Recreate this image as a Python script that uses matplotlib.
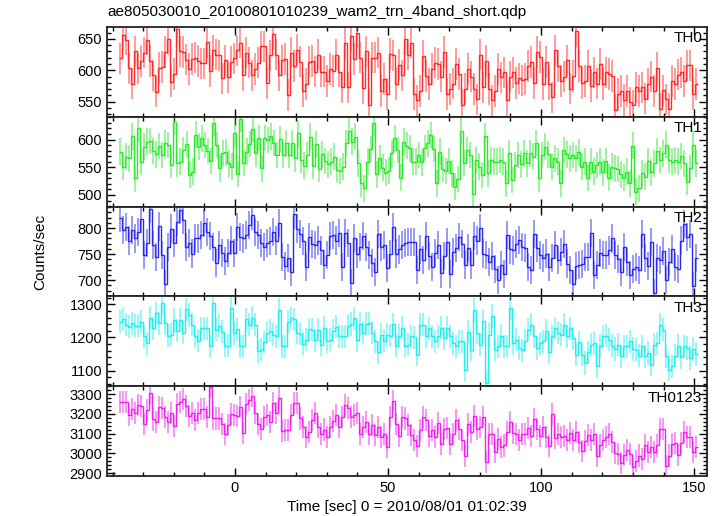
import numpy as np
import matplotlib
matplotlib.use("Agg")
import matplotlib.pyplot as plt
from matplotlib.ticker import MultipleLocator

plt.rcParams['font.family'] = ['Liberation Sans', 'DejaVu Sans']

# ---- data (counts/sec, 1 s bins) ----
th0_a = [619, 656, 649, 603, 579, 630, 603, 615, 628, 649, 615, 592, 566, 604, 605, 629, 650, 582, 594, 666,
         630, 629, 617, 602, 618, 620, 615, 611, 611, 645, 599, 632, 625, 624, 587, 616, 589, 613, 619, 632,
         644, 592, 628, 612, 592, 602, 612, 638, 638, 580, 624, 658, 625, 592, 616, 618, 561, 628, 607, 633,
         614, 567, 578, 614, 615, 598, 625, 598, 598, 583, 602, 599, 625, 598, 573, 643, 573, 654, 618, 660,
         620, 572, 630, 545, 620, 620, 628, 567, 586, 562, 626, 624, 578, 609, 592, 650]
th0_b = [625, 644, 562, 552, 567, 623, 591, 578, 602, 612, 610, 590, 629, 562, 570, 579, 610, 594, 545,
         571, 602, 590, 570, 554, 625, 573, 615, 570, 552, 567, 602, 589, 597, 552, 590, 597, 580, 587, 584,
         586, 607, 613, 580, 629, 621, 578, 613, 578, 557, 632, 607, 583, 590, 616, 571, 591, 662, 607, 580,
         583, 607, 575, 597, 579, 610, 578, 597, 594, 591, 537, 562, 567, 553, 567, 549, 544, 573, 567, 573,
         555, 578, 590, 567, 604, 539, 568, 554, 539, 583, 578, 593, 597, 583, 608, 608, 562, 578]

th1_a = [578, 551, 569, 566, 606, 530, 620, 560, 587, 596, 597, 579, 573, 588, 572, 593, 590, 554, 632, 557,
         560, 581, 592, 536, 542, 609, 587, 602, 590, 579, 561, 630, 590, 548, 575, 577, 557, 551, 611, 538,
         637, 558, 578, 592, 619, 575, 603, 548, 603, 599, 606, 594, 572, 601, 572, 593, 572, 593, 566, 611,
         563, 553, 572, 605, 553, 592, 547, 573, 561, 555, 560, 569, 545, 543, 551, 594, 616, 596, 605, 557,
         521, 512, 560, 583, 629, 537, 566, 549, 540, 544, 575, 602, 581, 531, 596, 589]
th1_b = [584, 560, 560, 572, 559, 585, 593, 608, 583, 521, 578, 547, 543, 561, 539, 515, 529, 615, 558,
         581, 572, 501, 563, 551, 536, 606, 539, 563, 560, 560, 563, 560, 521, 575, 527, 554, 572, 555, 575,
         557, 575, 569, 594, 530, 572, 587, 573, 551, 566, 560, 521, 581, 573, 566, 572, 566, 577, 551, 560,
         531, 560, 542, 554, 560, 541, 561, 531, 551, 548, 547, 537, 531, 542, 521, 589, 506, 512, 539, 533,
         561, 541, 557, 579, 563, 575, 591, 563, 560, 563, 560, 570, 557, 524, 548, 591, 557]

th2_a = [819, 796, 802, 776, 796, 780, 792, 818, 749, 771, 836, 767, 745, 803, 749, 692, 764, 799, 771, 811,
         834, 815, 764, 771, 751, 781, 780, 786, 810, 792, 784, 764, 733, 767, 752, 737, 752, 776, 752, 802,
         783, 780, 786, 805, 824, 792, 786, 771, 764, 771, 775, 792, 776, 810, 745, 727, 743, 716, 826, 799,
         788, 775, 725, 782, 769, 767, 776, 757, 730, 748, 784, 786, 776, 790, 725, 790, 771, 694, 781, 751,
         764, 784, 764, 749, 733, 716, 788, 764, 767, 724, 750, 802, 751, 759, 767, 771]
th2_b = [773, 773, 773, 719, 759, 738, 784, 746, 725, 752, 767, 713, 746, 773, 712, 754, 761, 783, 770,
         729, 761, 729, 784, 776, 800, 751, 748, 735, 746, 722, 701, 729, 712, 786, 759, 757, 770, 777, 764,
         762, 725, 719, 789, 761, 748, 742, 751, 725, 742, 767, 738, 754, 770, 732, 719, 692, 727, 729, 731,
         745, 745, 790, 710, 729, 752, 748, 748, 757, 780, 748, 740, 716, 764, 735, 710, 722, 725, 719, 789,
         742, 727, 773, 675, 742, 738, 756, 701, 735, 759, 725, 722, 776, 808, 783, 789, 688, 743]

th3_a = [1248, 1255, 1238, 1233, 1243, 1235, 1235, 1248, 1203, 1183, 1260, 1228, 1273, 1243, 1305, 1243,
         1205, 1208, 1253, 1220, 1253, 1215, 1285, 1268, 1238, 1203, 1190, 1228, 1228, 1228, 1173, 1303,
         1223, 1236, 1218, 1175, 1175, 1290, 1213, 1225, 1173, 1173, 1255, 1238, 1260, 1238, 1158, 1163,
         1185, 1215, 1220, 1208, 1203, 1283, 1173, 1173, 1248, 1258, 1255, 1215, 1211, 1181, 1193, 1225,
         1223, 1191, 1223, 1178, 1230, 1188, 1193, 1221, 1233, 1203, 1203, 1203, 1235, 1241, 1258, 1191,
         1241, 1215, 1241, 1243, 1215, 1188, 1155, 1208, 1190, 1208, 1205, 1240, 1175, 1205, 1230, 1175]
th3_b = [1178, 1203, 1200, 1148, 1238, 1238, 1203, 1228, 1203, 1188, 1203, 1230, 1198, 1230, 1203, 1183,
         1173, 1188, 1188, 1103, 1218, 1163, 1283, 1215, 1178, 1251, 1063, 1208, 1265, 1163, 1173, 1205,
         1173, 1173, 1288, 1183, 1193, 1168, 1161, 1190, 1223, 1238, 1203, 1168, 1183, 1188, 1221, 1155,
         1203, 1228, 1215, 1208, 1238, 1203, 1228, 1198, 1148, 1185, 1148, 1123, 1155, 1178, 1183, 1113,
         1175, 1203, 1205, 1193, 1175, 1165, 1178, 1143, 1173, 1173, 1188, 1165, 1163, 1145, 1173, 1143,
         1153, 1118, 1178, 1183, 1238, 1223, 1143, 1103, 1113, 1145, 1175, 1140, 1173, 1168, 1138, 1165, 1150]

th0123_a = [3262, 3262, 3262, 3194, 3223, 3203, 3245, 3240, 3151, 3220, 3309, 3172, 3160, 3237, 3228, 3185,
            3160, 3206, 3138, 3250, 3262, 3274, 3240, 3189, 3206, 3168, 3206, 3223, 3226, 3185, 3336, 3177,
            3177, 3177, 3151, 3100, 3143, 3199, 3194, 3191, 3237, 3103, 3249, 3271, 3291, 3206, 3151, 3126,
            3185, 3194, 3160, 3254, 3203, 3279, 3114, 3117, 3117, 3194, 3254, 3257, 3177, 3134, 3083, 3109,
            3168, 3206, 3134, 3100, 3121, 3083, 3134, 3163, 3194, 3134, 3185, 3245, 3228, 3185, 3194, 3206,
            3100, 3134, 3160, 3100, 3143, 3091, 3134, 3083, 3100, 3032, 3185, 3268, 3151, 3086, 3185, 3177]
th0123_b = [3143, 3091, 3069, 3035, 3117, 3185, 3168, 3086, 3117, 3083, 3155, 3049, 3126, 3131, 3049, 3100,
            3168, 3126, 3069, 2989, 3151, 3109, 3189, 3126, 3134, 3185, 2955, 3100, 3097, 3006, 3074, 3032,
            3040, 3109, 3160, 3103, 3100, 3069, 3100, 3100, 3131, 3086, 3172, 3126, 3086, 3134, 3083, 3035,
            3199, 3079, 3100, 3083, 3086, 3066, 3103, 3066, 3109, 3057, 3011, 3062, 3091, 3069, 3097, 2989,
            3040, 3066, 3083, 3100, 3057, 3000, 2997, 2950, 2993, 3015, 2997, 2929, 2963, 2989, 2972, 3040,
            3006, 3032, 3006, 3040, 3126, 3126, 2938, 2989, 3049, 3053, 2993, 3053, 3109, 3083, 3083, 3006, 3032]

band_names = ["TH0", "TH1", "TH2", "TH3", "TH0123"]
band_values = [th0_a + th0_b, th1_a + th1_b, th2_a + th2_b, th3_a + th3_b, th0123_a + th0123_b]
band_errors = [25, 24, 27, 35, 56]
y_limits = [(526, 669), (479, 641), (669, 841), (1053, 1324), (2885, 3341)]
y_major = [50, 50, 50, 100, 100]
y_minor = [10, 10, 10, 20, 20]
colors = ["#ff2a2a", "#2ee82e", "#2a2aee", "#22eeee", "#ee22ee"]

t_start, t_end = -38.0, 151.2
x_limits = (-41.8, 154.2)

fig = plt.figure(figsize=(7.21, 5.16), dpi=100)
left, right = 107 / 721, 707 / 721
top, bottom = 1 - 27 / 516, 1 - 476 / 516
axes = fig.subplots(5, 1, sharex=True,
                    gridspec_kw=dict(left=left, right=right, top=top, bottom=bottom, hspace=0))

for i, ax in enumerate(axes):
    vals = np.array(band_values[i], dtype=float)
    n = len(vals)
    edges = np.linspace(t_start, t_end, n + 1)
    centers = 0.5 * (edges[:-1] + edges[1:])
    err = band_errors[i]
    ax.vlines(centers, vals - err, vals + err, color=colors[i], lw=1.1, alpha=0.6)
    ax.stairs(vals, edges, baseline=None, color=colors[i], lw=1.0)
    ax.set_xlim(*x_limits)
    ax.set_ylim(*y_limits[i])
    ax.yaxis.set_major_locator(MultipleLocator(y_major[i]))
    ax.yaxis.set_minor_locator(MultipleLocator(y_minor[i]))
    ax.xaxis.set_major_locator(MultipleLocator(50))
    ax.xaxis.set_minor_locator(MultipleLocator(10))
    ax.tick_params(which='both', direction='in', top=True, right=True, labelsize=10.5,
                   colors='black', width=1)
    ax.tick_params(which='major', length=6)
    ax.tick_params(which='minor', length=3)
    for s in ax.spines.values():
        s.set_linewidth(1.3)
        s.set_color('#222222')
    ax.text(0.992, 0.95, band_names[i], transform=ax.transAxes, ha='right', va='top', fontsize=11)

axes[-1].set_xticks([0, 50, 100, 150])

fig.text(left, 1 - 12 / 516, "ae805030010_20100801010239_wam2_trn_4band_short.qdp",
         ha='left', va='center', fontsize=11)
fig.text(40 / 721, 1 - 252 / 516, "Counts/sec", rotation=90, ha='center', va='center', fontsize=11)
fig.text(407 / 721, 1 - 507 / 516, "Time [sec] 0 = 2010/08/01 01:02:39",
         ha='center', va='center', fontsize=11)

fig.savefig("out.png", dpi=100)
